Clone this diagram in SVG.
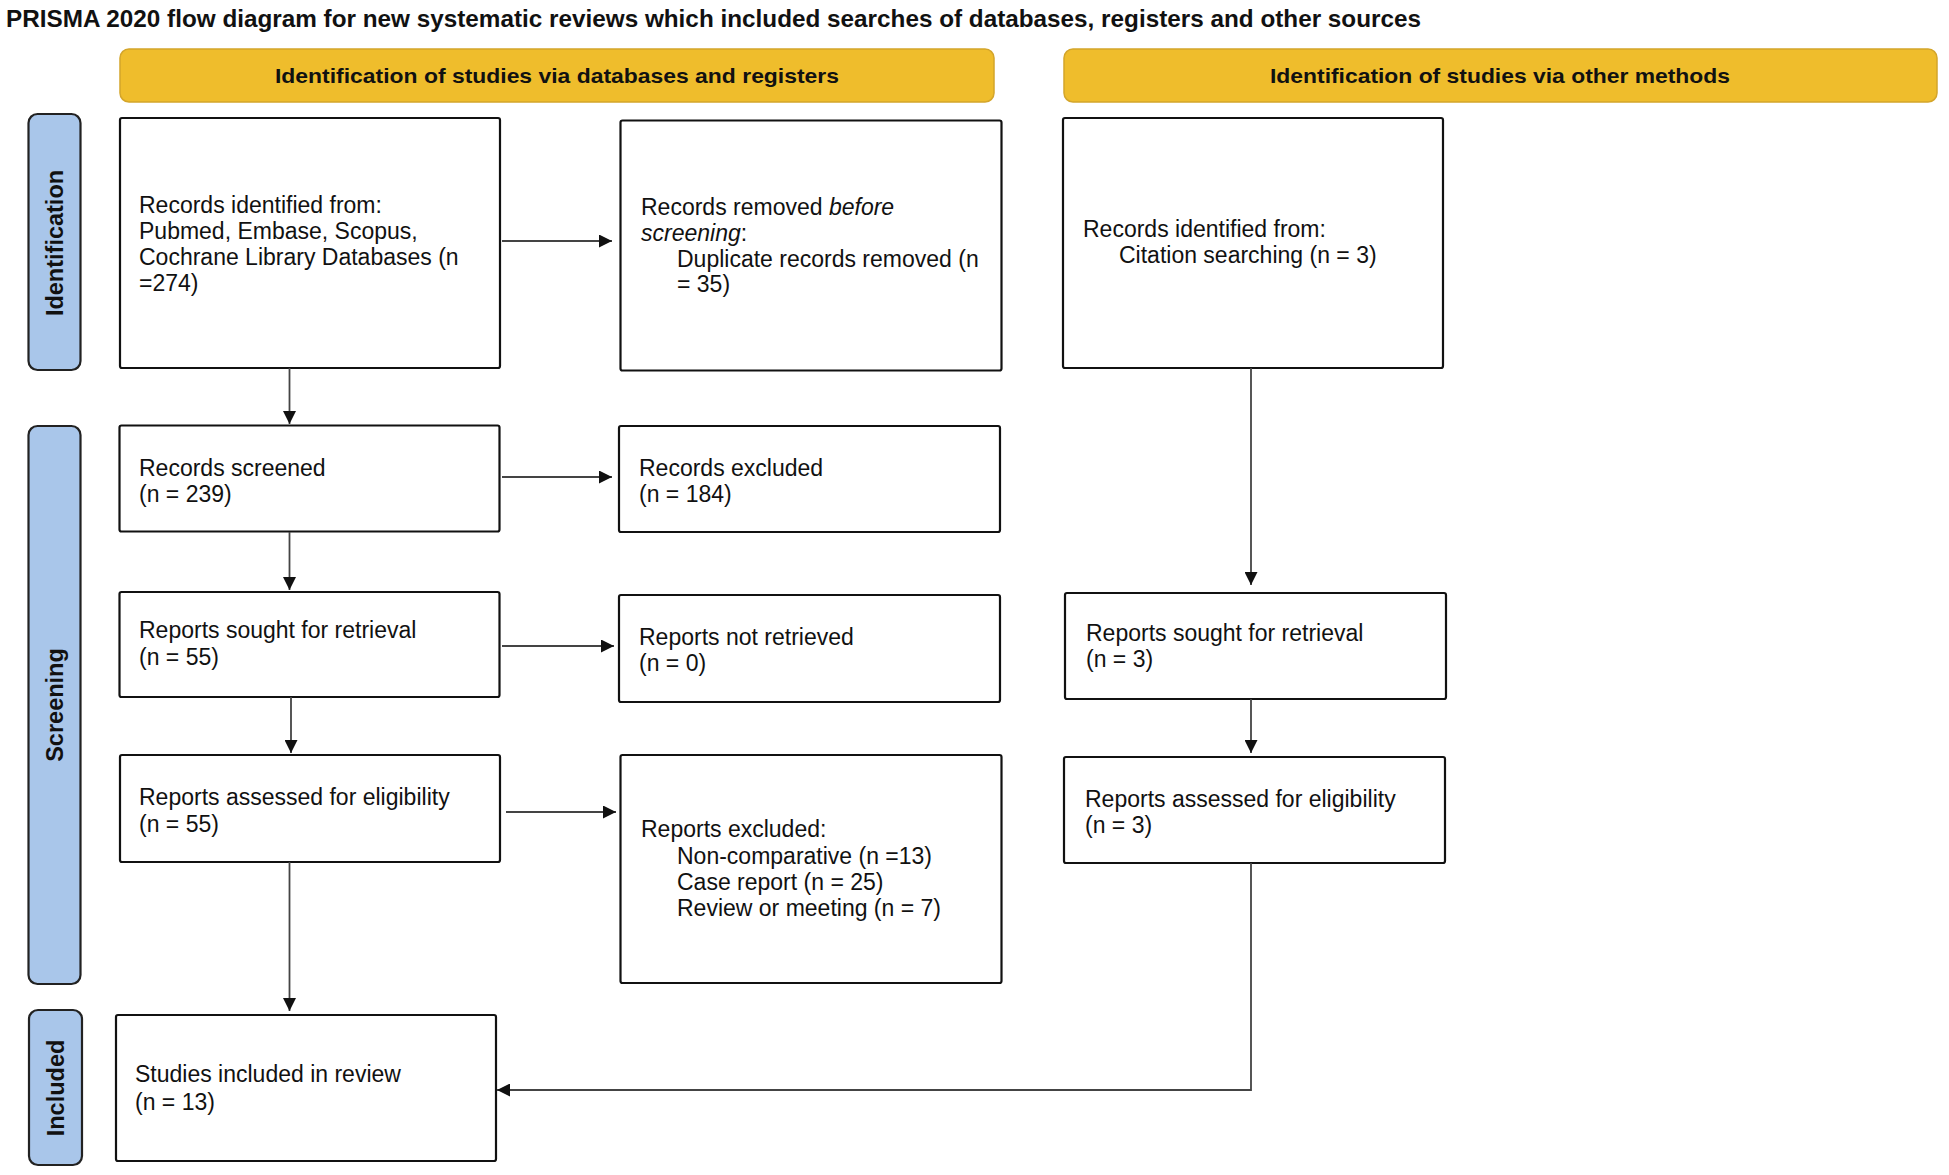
<svg xmlns="http://www.w3.org/2000/svg" width="1949" height="1175" viewBox="0 0 1949 1175">
<style>
.hdr{fill:#EFBD2C;stroke:#D4A52A;stroke-width:1.5}
.side{fill:#A9C6EA;stroke:#222;stroke-width:2.2}
.box{fill:#fff;stroke:#111;stroke-width:2.2}
.t{font-family:"Liberation Sans",Arial,sans-serif;font-size:23px;fill:#111}
.ht{font-family:"Liberation Sans",Arial,sans-serif;font-size:21px;font-weight:bold;fill:#111;text-anchor:middle}
.st{font-family:"Liberation Sans",Arial,sans-serif;font-size:23.5px;font-weight:bold;fill:#111;text-anchor:middle;dominant-baseline:central}
.ln{fill:none;stroke:#444;stroke-width:1.8}
</style>
<defs>
<marker id="ah" viewBox="0 0 10 10" refX="10" refY="5" markerWidth="14" markerHeight="13" markerUnits="userSpaceOnUse" orient="auto">
<path d="M0,0 L10,5 L0,10 z" fill="#111"/>
</marker>
</defs>
<rect width="1949" height="1175" fill="#fff"/>
<text x="6" y="27" font-family="'Liberation Sans',Arial,sans-serif" font-size="24" font-weight="bold" fill="#111" textLength="1415" lengthAdjust="spacingAndGlyphs">PRISMA 2020 flow diagram for new systematic reviews which included searches of databases, registers and other sources</text>

<g id="hdr-db"><rect class="hdr" x="120" y="49" width="874" height="53" rx="9"/><text class="ht" x="557" y="83" textLength="564" lengthAdjust="spacingAndGlyphs">Identification of studies via databases and registers</text></g>
<g id="hdr-other"><rect class="hdr" x="1064" y="49" width="873" height="53" rx="9"/><text class="ht" x="1500" y="83" textLength="460" lengthAdjust="spacingAndGlyphs">Identification of studies via other methods</text></g>

<g id="side-identification"><rect class="side" x="28.5" y="114" width="52" height="256" rx="9"/><text class="st" transform="translate(55,243) rotate(-90)">Identification</text></g>
<g id="side-screening"><rect class="side" x="28.5" y="426" width="52" height="558" rx="9"/><text class="st" transform="translate(55,705) rotate(-90)">Screening</text></g>
<g id="side-included"><rect class="side" x="29" y="1010" width="53" height="155" rx="9"/><text class="st" transform="translate(55.5,1088) rotate(-90)">Included</text></g>

<g id="records-identified"><rect class="box" x="120" y="118" width="380" height="250" rx="2"/>
<text class="t"><tspan x="139" y="213">Records identified from:</tspan><tspan x="139" y="239">Pubmed, Embase, Scopus,</tspan><tspan x="139" y="265">Cochrane Library Databases (n</tspan><tspan x="139" y="291">=274)</tspan></text></g>

<g id="records-removed"><rect class="box" x="620.5" y="120.5" width="381" height="250" rx="2"/>
<text class="t"><tspan x="641" y="215">Records removed <tspan font-style="italic">before</tspan></tspan><tspan x="641" y="241" font-style="italic">screening</tspan><tspan>:</tspan><tspan x="677" y="267">Duplicate records removed (n</tspan><tspan x="677" y="292">= 35)</tspan></text></g>

<g id="citation-records"><rect class="box" x="1063" y="118" width="380" height="250" rx="2"/>
<text class="t"><tspan x="1083" y="237">Records identified from:</tspan><tspan x="1119" y="263">Citation searching (n = 3)</tspan></text></g>

<g id="records-screened"><rect class="box" x="119.5" y="425.5" width="380" height="106" rx="2"/>
<text class="t"><tspan x="139" y="476">Records screened</tspan><tspan x="139" y="502">(n = 239)</tspan></text></g>

<g id="records-excluded"><rect class="box" x="619" y="426" width="381" height="106" rx="2"/>
<text class="t"><tspan x="639" y="476">Records excluded</tspan><tspan x="639" y="502">(n = 184)</tspan></text></g>

<g id="reports-sought"><rect class="box" x="119.5" y="592" width="380" height="105" rx="2"/>
<text class="t"><tspan x="139" y="638">Reports sought for retrieval</tspan><tspan x="139" y="665">(n = 55)</tspan></text></g>

<g id="reports-not-retrieved"><rect class="box" x="619" y="595" width="381" height="107" rx="2"/>
<text class="t"><tspan x="639" y="645">Reports not retrieved</tspan><tspan x="639" y="671">(n = 0)</tspan></text></g>

<g id="reports-sought-other"><rect class="box" x="1065" y="593" width="381" height="106" rx="2"/>
<text class="t"><tspan x="1086" y="641">Reports sought for retrieval</tspan><tspan x="1086" y="667">(n = 3)</tspan></text></g>

<g id="reports-assessed"><rect class="box" x="120" y="755" width="380" height="107" rx="2"/>
<text class="t"><tspan x="139" y="805">Reports assessed for eligibility</tspan><tspan x="139" y="832">(n = 55)</tspan></text></g>

<g id="reports-excluded"><rect class="box" x="620.5" y="755" width="381" height="228" rx="2"/>
<text class="t"><tspan x="641" y="837">Reports excluded:</tspan><tspan x="677" y="864">Non-comparative (n =13)</tspan><tspan x="677" y="890">Case report (n = 25)</tspan><tspan x="677" y="916">Review or meeting (n = 7)</tspan></text></g>

<g id="reports-assessed-other"><rect class="box" x="1064" y="757" width="381" height="106" rx="2"/>
<text class="t"><tspan x="1085" y="807">Reports assessed for eligibility</tspan><tspan x="1085" y="833">(n = 3)</tspan></text></g>

<g id="studies-included"><rect class="box" x="116" y="1015" width="380" height="146" rx="2"/>
<text class="t"><tspan x="135" y="1082">Studies included in review</tspan><tspan x="135" y="1110">(n = 13)</tspan></text></g>

<g id="connectors">
<line class="ln" x1="289.5" y1="368" x2="289.5" y2="424" marker-end="url(#ah)"/>
<line class="ln" x1="289.5" y1="532" x2="289.5" y2="590" marker-end="url(#ah)"/>
<line class="ln" x1="291" y1="697" x2="291" y2="753" marker-end="url(#ah)"/>
<line class="ln" x1="289.5" y1="862" x2="289.5" y2="1011" marker-end="url(#ah)"/>
<line class="ln" x1="502" y1="241" x2="612" y2="241" marker-end="url(#ah)"/>
<line class="ln" x1="502" y1="477" x2="612" y2="477" marker-end="url(#ah)"/>
<line class="ln" x1="502" y1="646" x2="614" y2="646" marker-end="url(#ah)"/>
<line class="ln" x1="506" y1="812" x2="616" y2="812" marker-end="url(#ah)"/>
<line class="ln" x1="1251" y1="368" x2="1251" y2="585" marker-end="url(#ah)"/>
<line class="ln" x1="1251" y1="699" x2="1251" y2="753" marker-end="url(#ah)"/>
<polyline class="ln" points="1251,863 1251,1090 497,1090" marker-end="url(#ah)"/>
</g>
</svg>
